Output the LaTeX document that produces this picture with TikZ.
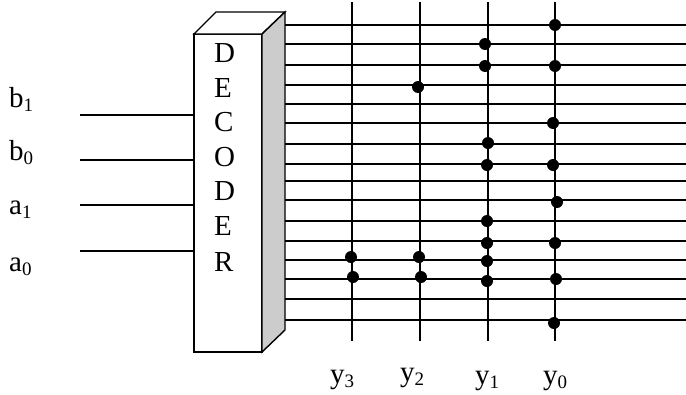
\documentclass[tikz,border=0pt]{standalone}
\usepackage{fontspec}
\setmainfont{Liberation Serif}
\newcommand\lblsub[1]{\raisebox{-0.14em}{\fontsize{19}{19}\selectfont #1}}
\tikzset{
  x=1pt,y=-1pt,
  wire/.style={line width=1.5pt,black},
  edgeline/.style={line width=1.4pt,black,line join=miter},
  junction/.style={circle,fill=black,draw=none,inner sep=0pt,minimum size=12pt},
  lbl/.style={inner sep=0pt,anchor=base west,font=\fontsize{29}{32}\selectfont},
  declbl/.style={inner sep=0pt,anchor=base west,font=\fontsize{29}{32}\selectfont}
}
\begin{document}
\begin{tikzpicture}
\useasboundingbox (0,0) rectangle (686,394);
% decoder body
\node[draw=black,line width=1.4pt,fill=white,minimum width=68pt,minimum height=318pt,inner sep=0pt,outer sep=0pt] (dec) at (228,193) {};
\coordinate (tl) at (216,12);
\coordinate (tr) at (285,12);
\coordinate (br) at (285,330);
\filldraw[edgeline,fill=white] (dec.north west) -- (tl) -- (tr) -- (dec.north east) -- cycle;
\filldraw[edgeline,fill=black!20] (dec.north east) -- (tr) -- (br) -- (dec.south east) -- cycle;
% decoder letters
\node[declbl] (l1) at (214,62) {D};
\node[declbl] (l2) at (214,97) {E};
\node[declbl] (l3) at (214,131) {C};
\node[declbl] (l4) at (214,166) {O};
\node[declbl] (l5) at (214,200) {D};
\node[declbl] (l6) at (214,235) {E};
\node[declbl] (l7) at (214,271) {R};
% inputs
\foreach \n/\yy in {a/115,b/160,c/205,d/251}{
  \coordinate (in\n) at (80,\yy);
  \draw[wire] (in\n) -- (in\n -| dec.west);
}
\node[lbl] (b1) at (9,107) {b\lblsub{1}};
\node[lbl] (b0) at (9,160) {b\lblsub{0}};
\node[lbl] (a1) at (9,214) {a\lblsub{1}};
\node[lbl] (a0) at (9,271) {a\lblsub{0}};
% output lines
\foreach \i/\yy in {1/25,2/44,3/65,4/85,5/104,6/123,7/144,8/164,9/181,10/200,11/221,12/241,13/260,14/279,15/299,16/320}{
  \coordinate (ol\i) at (285,\yy);
  \coordinate (or\i) at (686,\yy);
  \draw[wire] (ol\i) -- (or\i);
}
% columns
\foreach \n/\xx in {3/352,2/420,1/488,0/555}{
  \coordinate (ct\n) at (\xx,2);
  \coordinate (cb\n) at (\xx,341);
  \draw[wire] (ct\n) -- (cb\n);
}
% junctions
\foreach \xx/\yy [count=\k] in {555/25,485/44,485/66,555/66,418/87,553/123,488/143,487/165,553/165,557/202,487/221,555/243,487/243,487/261,487/281,556/279,554/323,419/257,421/277,351/257,353/277}{
  \node[junction] (j\k) at (\xx,\yy) {};
}
% column labels
\node[lbl] (y3) at (330,383) {y\lblsub{3}};
\node[lbl] (y2) at (400,381) {y\lblsub{2}};
\node[lbl] (y1) at (475,384) {y\lblsub{1}};
\node[lbl] (y0) at (543,384) {y\lblsub{0}};
\end{tikzpicture}
\end{document}
